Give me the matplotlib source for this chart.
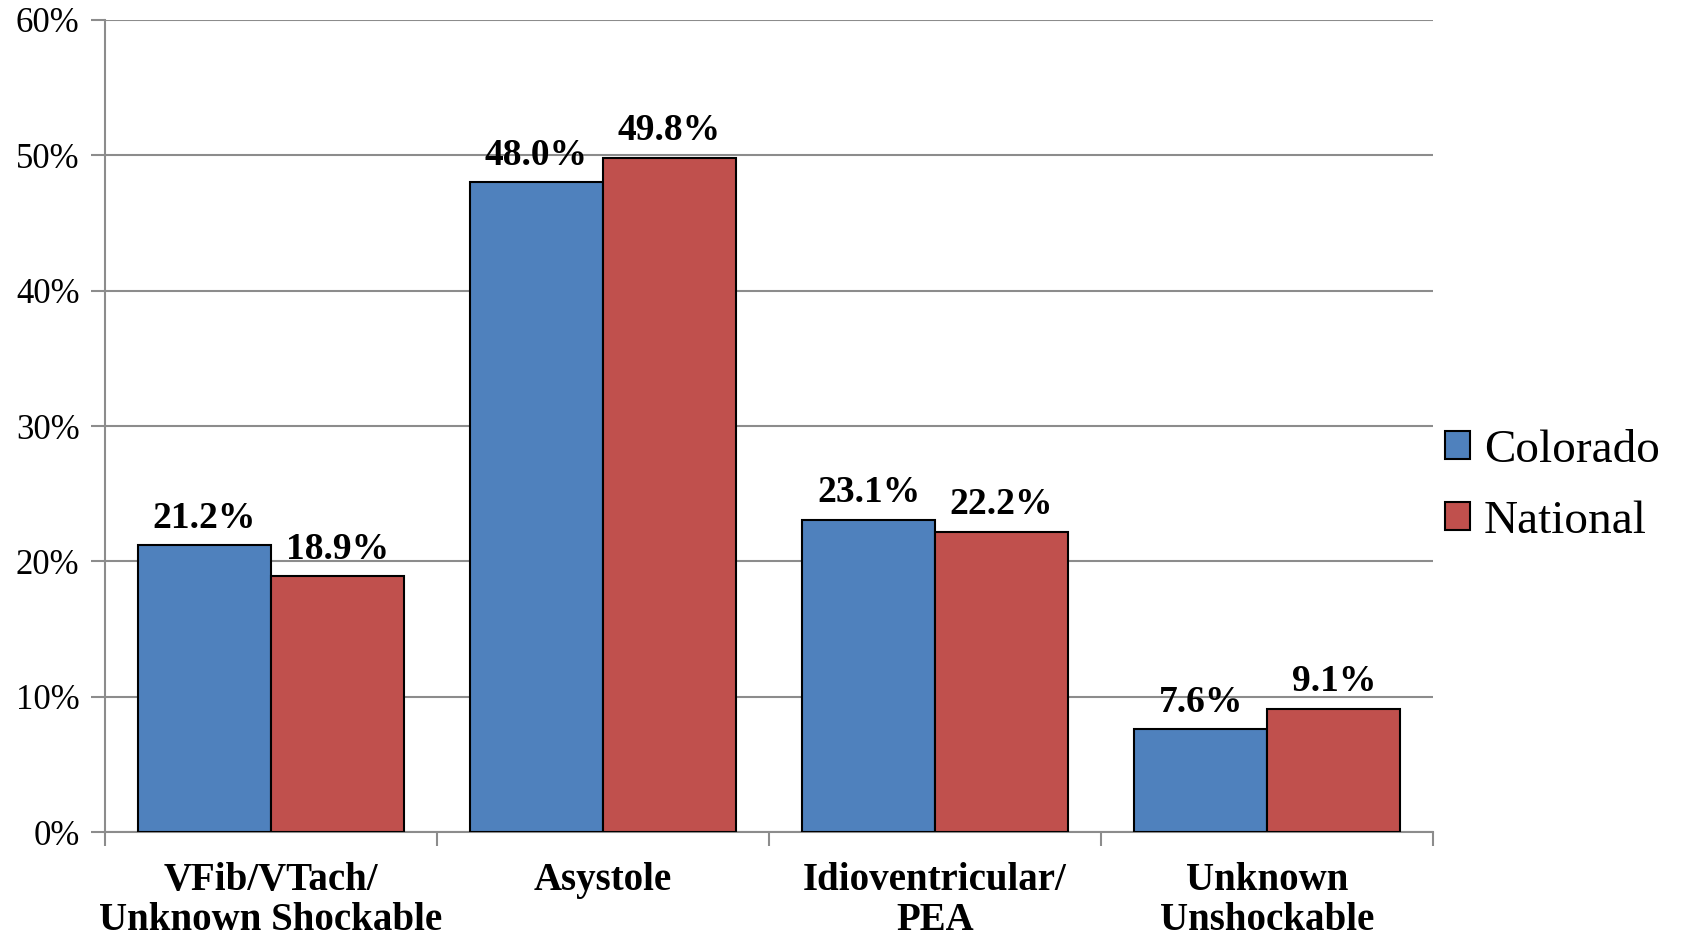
import matplotlib
matplotlib.use("Agg")
import matplotlib.pyplot as plt
import numpy as np
from matplotlib.patches import Patch

categories = ["VFib/VTach/\nUnknown Shockable", "Asystole", "Idioventricular/\nPEA", "Unknown\nUnshockable"]
colorado = [21.2, 48.0, 23.1, 7.6]
national = [18.9, 49.8, 22.2, 9.1]
series_names = ["Colorado", "National"]
yticks = [0, 10, 20, 30, 40, 50, 60]

plt.rcParams['font.family'] = ['Liberation Serif', 'DejaVu Serif']

fig = plt.figure(figsize=(16.82, 9.40), dpi=100)
ax = fig.add_axes([0.0622, 0.1145, 0.790, 0.8645])

blue = "#4F81BD"
red = "#C0504D"
grid_c = "#8C8C8C"

x = np.arange(len(categories))
w = 0.4
b1 = ax.bar(x - w/2, colorado, w, color=blue, edgecolor="black", linewidth=1.5, zorder=3)
b2 = ax.bar(x + w/2, national, w, color=red, edgecolor="black", linewidth=1.5, zorder=3)

for bars, vals in ((b1, colorado), (b2, national)):
    for r, v in zip(bars, vals):
        ax.annotate(f"{v:.1f}%", (r.get_x() + r.get_width()/2, v), xytext=(0, 7),
                    textcoords="offset points", ha="center", va="bottom",
                    fontsize=27, fontweight="bold", zorder=4)

ax.set_xlim(-0.5, len(categories) - 0.5)
ax.set_ylim(0, 60)
ax.set_yticks(yticks)
ax.set_yticklabels([f"{t}%" for t in yticks], fontsize=25)
ax.yaxis.grid(True, color=grid_c, linewidth=1.5, zorder=0)
ax.tick_params(axis="y", length=10, width=1.5, color=grid_c, pad=8)

ax.set_xticks(x)
ax.set_xticklabels(categories, fontsize=28, fontweight="bold", linespacing=1.12)
ax.set_xticks(np.arange(len(categories) + 1) - 0.5, minor=True)
ax.tick_params(axis="x", which="major", length=0, pad=21)
ax.tick_params(axis="x", which="minor", length=10, width=1.5, color=grid_c)

for s in ("top", "right"):
    ax.spines[s].set_visible(False)
for s in ("left", "bottom"):
    ax.spines[s].set_color(grid_c)
    ax.spines[s].set_linewidth(1.5)

handles = [Patch(facecolor=blue, edgecolor="black", linewidth=1.5),
           Patch(facecolor=red, edgecolor="black", linewidth=1.5)]
fig.legend(handles, series_names, loc="center left", bbox_to_anchor=(0.848, 0.483),
           frameon=False, fontsize=34, handlelength=0.52, handleheight=0.52,
           handletextpad=0.3, labelspacing=0.6, borderpad=0.2, borderaxespad=0.2)

fig.savefig("out.png", dpi=100)
